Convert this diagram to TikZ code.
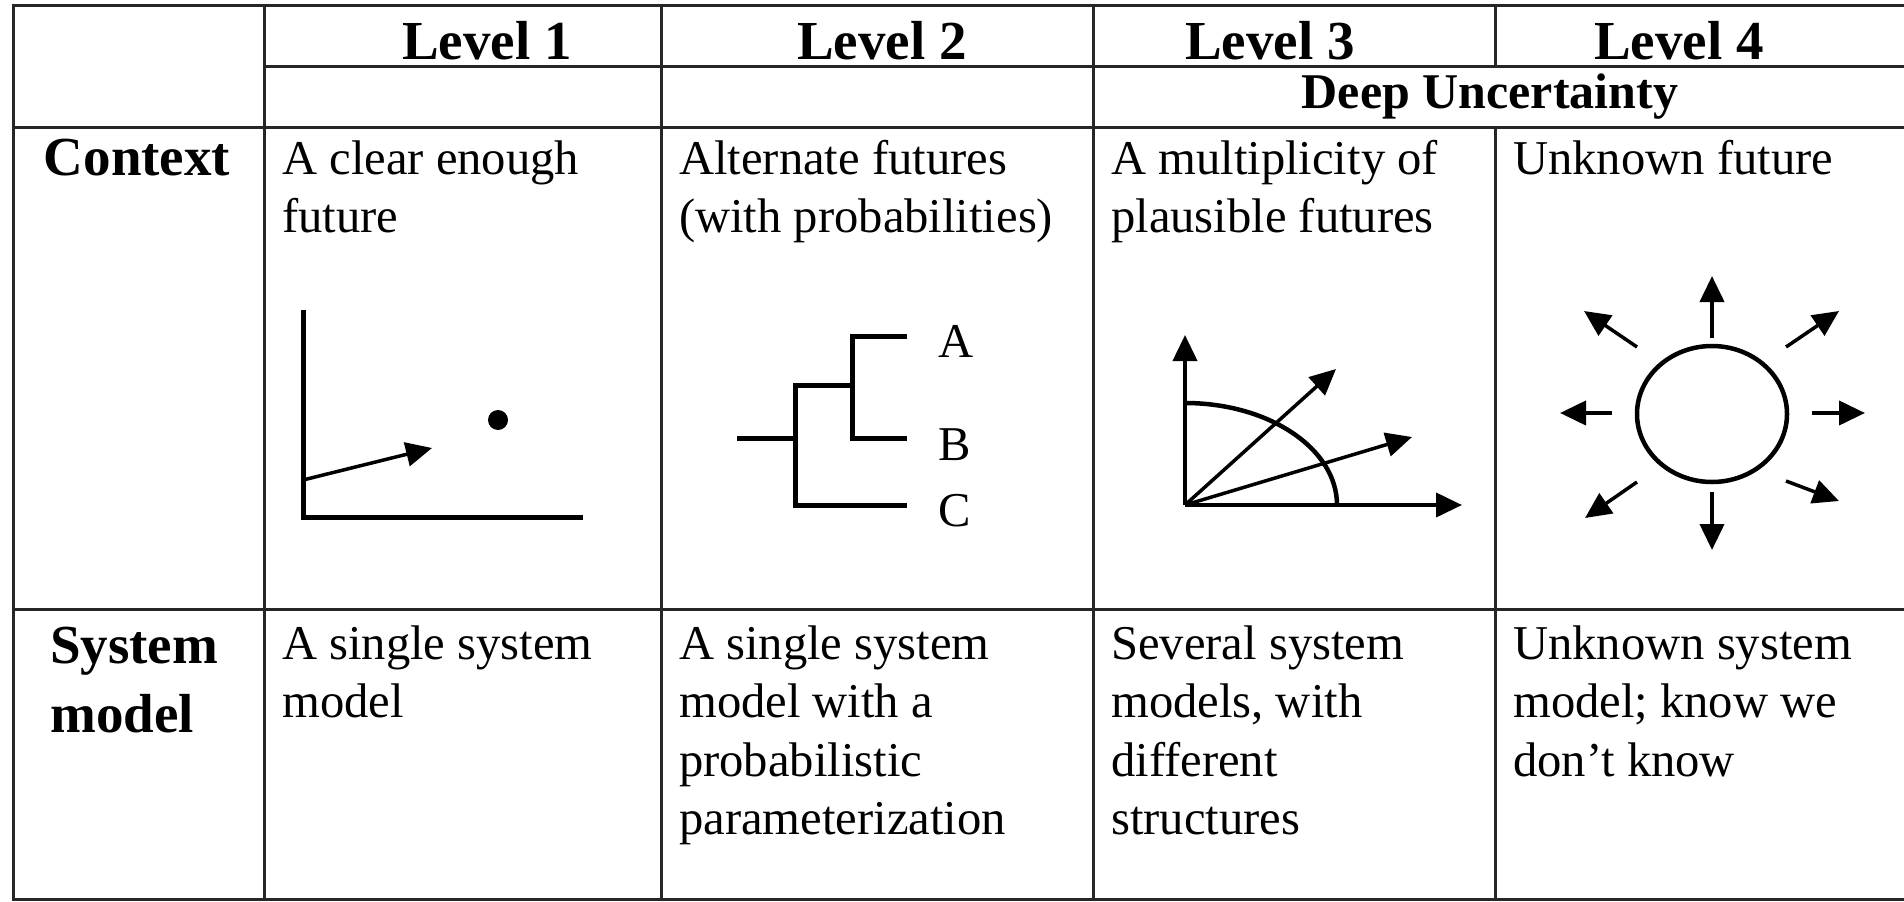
\documentclass[tikz,border=0pt]{standalone}
\usepackage{fontspec}
\setmainfont{Liberation Serif}
\usetikzlibrary{arrows.meta}
\newcommand{\bodyfont}{\fontsize{48.6}{58.5}\selectfont}
\newcommand{\labfont}{\fontsize{55}{69}\selectfont\bfseries}
\newcommand{\cellbox}[1]{\parbox[t]{400pt}{\raggedright\bodyfont #1}}
\newcommand{\labbox}[1]{\parbox[t]{220pt}{\raggedright\labfont #1}}
\begin{document}
\begin{tikzpicture}[x=1pt,y=-1pt,
  gridline/.style={line width=3pt, draw=black!85, line cap=rect},
  picline/.style={line width=5pt, line join=miter},
  arr/.style={line width=4pt, -{Triangle[length=26pt,width=24pt]}},
  body/.style={inner sep=0pt, anchor=base west},
  head/.style={inner sep=0pt, anchor=base, font=\labfont},
  letter/.style={inner sep=0pt, anchor=base west, font=\bodyfont}]
\useasboundingbox (0,0) rectangle (1904,902);
\fill[white] (0,0) rectangle (1904,902);
% ---- table grid
\draw[gridline] (13,5) -- (1904,5);
\draw[gridline] (264,66) -- (1904,66);
\draw[gridline] (13,127) -- (1904,127);
\draw[gridline] (13,609) -- (1904,609);
\draw[gridline] (13,899) -- (1904,899);
\draw[gridline] (13,5) -- (13,899);
\draw[gridline] (264,5) -- (264,899);
\draw[gridline] (661,5) -- (661,899);
\draw[gridline] (1093,5) -- (1093,899);
\draw[gridline] (1495,5) -- (1495,66);
\draw[gridline] (1495,127) -- (1495,899);
% ---- headers
\node[head] (l1) at (487,59) {Level 1};
\node[head] (l2) at (882,59) {Level 2};
\node[head] (l3) at (1270,59) {Level 3};
\node[head] (l4) at (1679,59) {Level 4};
\node[inner sep=0pt, anchor=base, font=\fontsize{50}{60}\selectfont\bfseries] (deep) at (1490,108) {Deep Uncertainty};
\node[head] (ctx) at (137,175) {Context};
\node[body] (sys) at (50,663) {\labbox{System\\model}};
% ---- cells
\node[body] (c1) at (282,174) {\cellbox{A clear enough\\future}};
\node[body] (c2) at (679,174) {\cellbox{Alternate futures\\(with probabilities)}};
\node[body] (c3) at (1111,174) {\cellbox{A multiplicity of\\plausible futures}};
\node[body] (c4) at (1513,174) {\cellbox{Unknown future}};
\node[body] (s1) at (282,659) {\cellbox{A single system\\model}};
\node[body] (s2) at (679,659) {\cellbox{A single system\\model with a\\probabilistic\\parameterization}};
\node[body] (s3) at (1111,659) {\cellbox{Several system\\models, with\\different\\structures}};
\node[body] (s4) at (1513,659) {\cellbox{Unknown system\\model; know we\\don’t know}};
% ---- level 1 sketch
\coordinate (o1) at (303,517);
\draw[picline] (303,310) -- (o1) -- (583,517);
\draw[arr, line width=3.5pt] (303,480) -- (432,448);
\fill (498,420) circle[radius=10];
% ---- level 2 tree
\draw[picline] (737,438) -- (795,438);
\draw[picline] (852,385) -- (795,385) -- (795,505) -- (907,505);
\draw[picline] (907,336) -- (852,336) -- (852,438) -- (907,438);
\node[letter] (la) at (938,357) {A};
\node[letter] (lb) at (938,460) {B};
\node[letter] (lc) at (938,526) {C};
% ---- level 3 sketch
\coordinate (o3) at (1185,505);
\draw[arr] (o3) -- (1185,335);
\draw[arr] (o3) -- (1462,505);
\draw[arr, line width=3.5pt] (o3) -- (1336,369);
\draw[arr, line width=3.5pt] (o3) -- (1412,437);
\draw[line width=4.5pt] (1185,403) arc[start angle=-90, end angle=0, x radius=152, y radius=102];
% ---- level 4 sketch
\coordinate (o4) at (1712,414);
\draw[line width=4.5pt] (o4) ellipse[x radius=75, y radius=68];
\draw[arr] (1712,338) -- (1712,276);
\draw[arr] (1712,492) -- (1712,550);
\draw[arr] (1612,413) -- (1560,413);
\draw[arr] (1812,413) -- (1865,413);
\draw[arr, line width=3.5pt] (1637,347) -- (1584,311);
\draw[arr, line width=3.5pt] (1786,347) -- (1839,311);
\draw[arr, line width=3.5pt] (1637,482) -- (1585,518);
\draw[arr, line width=3.5pt] (1786,481) -- (1839,501);
\end{tikzpicture}
\end{document}
